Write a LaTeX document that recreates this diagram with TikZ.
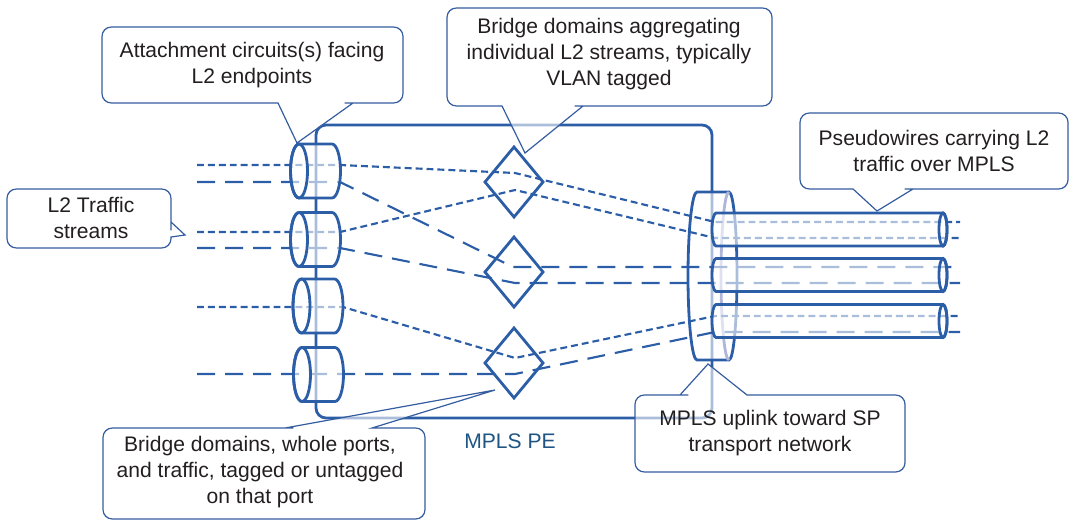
\documentclass[tikz,border=0pt]{standalone}
\usepackage{fontspec}
\setmainfont{Liberation Sans}
\usepackage{tikz}
\definecolor{peBlue}{RGB}{44,94,168}
\definecolor{noteBlue}{RGB}{52,92,160}
\definecolor{noteText}{RGB}{35,31,32}
\definecolor{peLabel}{RGB}{31,85,130}
\definecolor{paleBlue}{RGB}{175,182,218}

\tikzset{
  shell/.style={peBlue, line width=2.1pt},
  glass/.style={shell, fill=white, fill opacity=0.6},
  shortdash/.style={peBlue, line width=1.6pt, dash pattern=on 5.2pt off 3pt},
  longdash/.style={peBlue, line width=1.6pt, dash pattern=on 13.5pt off 7.5pt},
  notebox/.style={noteBlue, line width=0.9pt, fill=white, fill opacity=0.6, rounded corners=7pt},
  notetext/.style={text=noteText, align=center, font=\fontsize{15.8}{19.5}\selectfont},
}

\begin{document}
\begin{tikzpicture}[x=0.75pt, y=-0.75pt]
  \useasboundingbox (0,0) rectangle (1071,521);

  % PE router
  \draw[shell, rounded corners=7.5pt] (316,125) rectangle (712,418);
  \node[text=peLabel, font=\fontsize{15.8}{19.5}\selectfont] (pelabel) at (510,441) {MPLS PE};

  % uplink disk
  \draw[glass] (697,192) -- (729,192) arc (-90:90:8 and 84) -- (697,360) arc (90:270:9 and 84) -- cycle;
  \draw[paleBlue, line width=2.1pt] (729,192) arc (-90:-270:8 and 84);

  % ports on the attachment circuits
  \coordinate (ac1u) at (340,165);
  \coordinate (ac1l) at (340,182);
  \coordinate (ac2u) at (340,232);
  \coordinate (ac2l) at (340,248);
  \coordinate (ac3) at (343,307);
  \coordinate (ac4) at (345,374);
  % merge points inside the bridge domains
  \coordinate (bd1u) at (515,173);
  \coordinate (bd1l) at (515,190);
  \coordinate (bd2u) at (513,267);
  \coordinate (bd2l) at (515,283);
  \coordinate (bd3u) at (515,358);
  \coordinate (bd3l) at (515,374);
  % pseudowire entries
  \coordinate (pw1u) at (715,222);
  \coordinate (pw1l) at (715,238);
  \coordinate (pw2u) at (715,267);
  \coordinate (pw2l) at (715,283);
  \coordinate (pw3u) at (715,316);
  \coordinate (pw3l) at (715,332);
  \coordinate (lhs) at (197,0);
  \coordinate (rhs) at (960,0);

  % L2 streams
  \draw[shortdash] (ac1u -| lhs) -- (ac1u) -- (bd1u) -- (pw1u) -- (pw1u -| rhs);
  \draw[longdash] (ac1l -| lhs) -- (ac1l) -- (bd2u) -- (pw2u) -- (pw2u -| rhs);
  \draw[shortdash] (ac2u -| lhs) -- (ac2u) -- (bd1l) -- (pw1l) -- (pw1l -| rhs);
  \draw[longdash] (ac2l -| lhs) -- (ac2l) -- (bd2l) -- (pw2l) -- (pw2l -| rhs);
  \draw[shortdash] (ac3 -| lhs) -- (ac3) -- (bd3u) -- (pw3u) -- (pw3u -| rhs);
  \draw[longdash] (ac4 -| lhs) -- (ac4) -- (bd3l) -- (pw3l) -- (pw3l -| rhs);

  % bridge domains
  \foreach \y in {182,272,363}
    \draw[shell] (514,\y-35) -- (543,\y) -- (514,\y+35) -- (485,\y) -- cycle;

  % attachment circuits
  \foreach \cx/\cy in {299/171, 299/239.5, 301.5/306, 302/374.5} {
    \draw[glass] (\cx,\cy-27) -- (\cx+33,\cy-27) arc (-90:90:8.5 and 27)
      -- (\cx,\cy+27) arc (90:270:8.5 and 27) -- cycle;
    \draw[shell] (\cx,\cy) ellipse (8.5 and 27);
  }

  % pseudowires
  \foreach \cy in {229.5,275,321} {
    \draw[glass] (716,\cy-16.5) -- (943,\cy-16.5) arc (-90:90:4 and 16.5)
      -- (716,\cy+16.5) arc (90:270:4 and 16.5) -- cycle;
    \draw[shell] (943,\cy) ellipse (4 and 16.5);
  }

  % callouts
  \draw[notebox] (250,27) -- (403,27) -- (403,103) -- (354,103) [sharp corners] -- (353,103)
    -- (297,143) -- (278,103) -- (277,103) [rounded corners=7pt] -- (102,103) -- (102,27) -- cycle;
  \node[notetext] (acnote) at (252,65) {Attachment circuits(s) facing\\L2 endpoints};

  \draw[notebox] (600,8) -- (772,8) -- (772,106) -- (584,106) [sharp corners] -- (583,106)
    -- (525,153) -- (502,106) -- (501,106) [rounded corners=7pt] -- (447,106) -- (447,8) -- cycle;
  \node[notetext] (bdnote) at (609,54) {Bridge domains aggregating\\individual L2 streams, typically\\VLAN tagged};

  \draw[notebox] (90,189) -- (171,189) -- (171,221) [sharp corners] -- (171,222)
    -- (185,235) -- (171,237) -- (171,238) [rounded corners=7pt] -- (171,248) -- (7,248) -- (7,189) -- cycle;
  \node[notetext] (l2note) at (91,218) {L2 Traffic\\streams};

  \draw[notebox] (930,113) -- (1068,113) -- (1068,189) -- (914,189) [sharp corners] -- (913,189)
    -- (877,211) -- (853,189) -- (852,189) [rounded corners=7pt] -- (800,189) -- (800,113) -- cycle;
  \node[notetext] (pwnote) at (934,151) {Pseudowires carrying L2\\traffic over MPLS};

  \draw[notebox] (264,519) -- (103,519) -- (103,428) -- (284,428) [sharp corners] -- (285,428)
    -- (495,390) -- (372,428) -- (373,428) [rounded corners=7pt] -- (425,428) -- (425,519) -- cycle;
  \node[notetext] (pbnote) at (260,472) {Bridge domains, whole ports,\\and traffic, tagged or untagged\\on that port};

  \draw[notebox] (770,472) -- (635,472) -- (635,395) -- (679,395) [sharp corners] -- (680,395)
    -- (708,364) -- (747,395) -- (748,395) [rounded corners=7pt] -- (905,395) -- (905,472) -- cycle;
  \node[notetext] (upnote) at (770,433) {MPLS uplink toward SP\\transport network};
\end{tikzpicture}
\end{document}
